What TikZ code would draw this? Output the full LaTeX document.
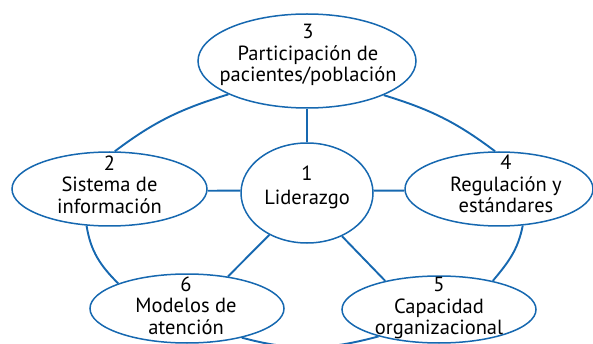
\documentclass[tikz,border=0pt]{standalone}
\usepackage{fontspec}
\setmainfont{PT Sans}
\usetikzlibrary{shapes.geometric}
\definecolor{ringblue}{RGB}{22,104,176}
\newcommand\lblfont{\fontsize{20.5}{21.5}\selectfont\lineskiplimit -20pt\relax}
\newcommand\lblfontwide{\fontsize{20.5}{24}\selectfont\lineskiplimit -20pt\relax}
\begin{document}
\begin{tikzpicture}[x=1pt,y=-1pt,
  ell/.style={draw=ringblue, line width=1.5pt, fill=white, ellipse, inner sep=0pt},
  lbl/.style={align=center, font=\lblfont, inner sep=0pt, text=black},
  link/.style={draw=ringblue, line width=1.9pt}]
\useasboundingbox (0,0) rectangle (593,344);
% ellipses
\node[ell, minimum width=218pt, minimum height=94pt] (n3) at (307,61) {};
\node[ell, minimum width=132pt, minimum height=100pt] (n1) at (307,193) {};
\node[ell, minimum width=195pt, minimum height=74pt] (n2) at (109.5,189) {};
\node[ell, minimum width=188pt, minimum height=74pt] (n4) at (499,189) {};
\node[ell, minimum width=194pt, minimum height=69pt] (n6) at (187,308.5) {};
\node[ell, minimum width=194pt, minimum height=67pt] (n5) at (439,309.5) {};
% labels
\node[lbl] (t3) at (308,55.3) {3\\Participación de\\pacientes/población};
\node[lbl, font=\lblfontwide] (t1) at (307,187.6) {1\\Liderazgo};
\node[lbl] (t2) at (109.5,184.4) {2\\Sistema de\\información};
\node[lbl] (t4) at (506,184) {4\\Regulación y\\estándares};
\node[lbl] (t6) at (186,305.4) {6\\Modelos de\\atención};
\node[lbl] (t5) at (439,308) {5\\Capacidad\\organizacional};
% spokes
\draw[link] (n3.south) -- (n1.north);
\draw[link] (n1.178) -- (n2.-1);
\draw[link] (n1.2) -- (n4.181);
\draw[link] (n1.228) -- (n6.38);
\draw[link] (n1.-51) -- (n5.152);
% ring
\draw[link] (n3.203) to[out=197,in=37] (n2.82);
\draw[link] (n3.-24) to[out=-17,in=143] (n4.96);
\draw[link] (n2.238) to[out=279,in=135] (n6.160);
\draw[link] (n4.-57) to[out=259,in=50] (n5.28);
\draw[link] (n6.-28) to[out=-15,in=195] (n5.204);
\end{tikzpicture}
\end{document}
